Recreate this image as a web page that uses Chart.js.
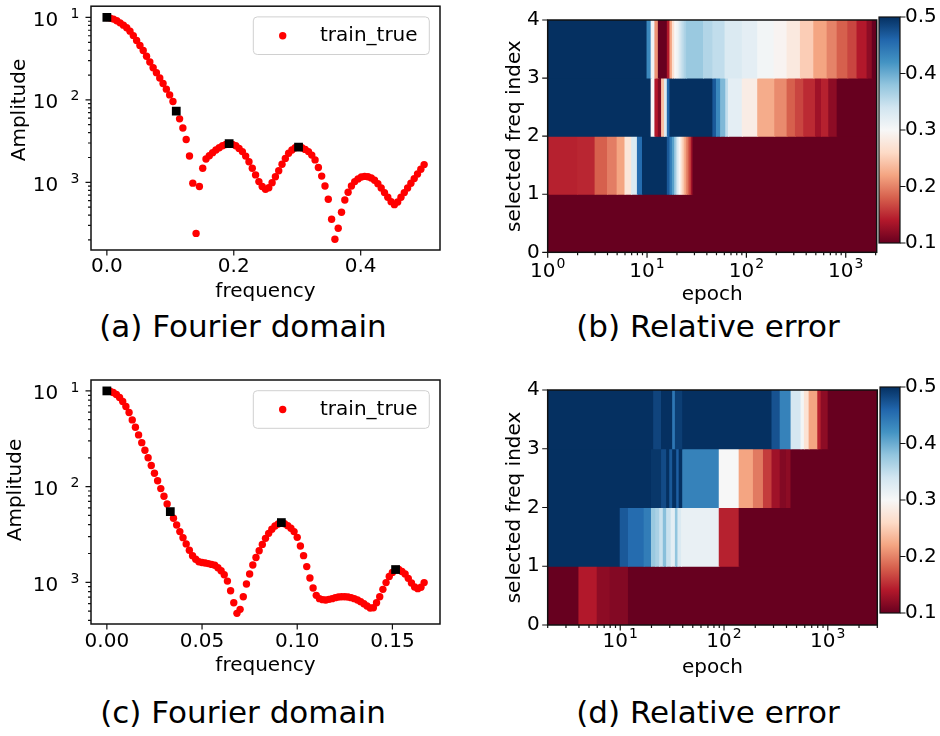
<!DOCTYPE html>
<html>
<head>
<meta charset="utf-8">
<script src="https://cdn.jsdelivr.net/npm/chart.js@4.4.1/dist/chart.umd.min.js"></script>
<style>
  html, body { margin: 0; padding: 0; background: #fff; }
  #page { position: relative; width: 940px; height: 736px; overflow: hidden;
          font-family: "DejaVu Sans", sans-serif; }
  canvas { position: absolute; }
  .caption { position: absolute; width: 400px; text-align: center; font-size: 31px;
             line-height: 31px; color: #000; white-space: nowrap; }
</style>
</head>
<body>
<div id="page">
  <canvas id="chartA" width="460" height="304" style="left:0px;top:0px"></canvas>
  <canvas id="chartB" width="410" height="307" style="left:470px;top:0px"></canvas>
  <canvas id="barB" width="70" height="260" style="left:870px;top:0px"></canvas>
  <canvas id="chartC" width="460" height="308" style="left:0px;top:370px"></canvas>
  <canvas id="chartD" width="410" height="310" style="left:470px;top:370px"></canvas>
  <canvas id="barD" width="70" height="260" style="left:870px;top:370px"></canvas>
  <div class="caption" style="left:43px;top:311px">(a) Fourier domain</div>
  <div class="caption" style="left:508px;top:311px">(b) Relative error</div>
  <div class="caption" style="left:43px;top:697px">(c) Fourier domain</div>
  <div class="caption" style="left:508px;top:697px">(d) Relative error</div>
</div>
<script>
"use strict";

const FAMILY = "DejaVu Sans";
const TEXT_COLOR = "#000";
const AXIS_COLOR = "#111";

// ----- panel (a): spectrum, 97 frequency bins ------------------------------ //
const A_FREQ_STEP = 0.5 / 96;
const A_AMP = [
  0.1, 0.0982, 0.0955, 0.0912, 0.0861, 0.0807, 0.0750, 0.0682, 0.0603, 0.0525,
  0.0457, 0.0398, 0.0339, 0.0288, 0.0245, 0.0214, 0.0184, 0.0158, 0.0135, 0.0115,
  0.00955, 0.00733, 0.00589, 0.00457, 0.00331, 0.00209, 0.000977, 0.000240, 0.000891, 0.00148,
  0.00192, 0.00210, 0.00229, 0.00247, 0.00263, 0.00278, 0.00288, 0.00294, 0.00289, 0.00278,
  0.00258, 0.00236, 0.00208, 0.00178, 0.00148, 0.00123, 0.00102, 0.000891, 0.000822, 0.000861,
  0.000991, 0.00117, 0.00138, 0.00166, 0.00195, 0.00225, 0.00247, 0.00263, 0.00268, 0.00263,
  0.00251, 0.00236, 0.00214, 0.00187, 0.00151, 0.00119, 0.000904, 0.000622, 0.000356, 0.000204,
  0.000277, 0.000433, 0.000611, 0.000757, 0.000904, 0.00102, 0.00110, 0.00116, 0.00118, 0.00117,
  0.00113, 0.00106, 0.000964, 0.000853, 0.000750, 0.000658, 0.000583, 0.000536, 0.000578, 0.000658,
  0.000750, 0.000853, 0.000973, 0.00111, 0.00126, 0.00144, 0.00164
];
const A_SEL = [0, 21, 37, 58];
const A_X_TICKS = [0, 0.2, 0.4];
const A_X_LABELS = ["0.0", "0.2", "0.4"];

// ----- panel (c): spectrum, 101 frequency bins ----------------------------- //
const C_FREQ_STEP = 1 / 600;
const C_AMP = [
  0.1000, 0.0992, 0.0962, 0.0916, 0.0852, 0.0774, 0.0686, 0.0594, 0.0498, 0.0417,
  0.0347, 0.0288, 0.0240, 0.0200, 0.0166, 0.0138, 0.0115, 0.00953, 0.00793, 0.00659,
  0.00548, 0.00467, 0.00397, 0.00339, 0.00293, 0.00252, 0.00216, 0.00190, 0.00174, 0.00164,
  0.00161, 0.00159, 0.00157, 0.00154, 0.00151, 0.00142, 0.00132, 0.00120, 0.00103, 0.000818,
  0.000612, 0.000474, 0.000522, 0.000708, 0.000961, 0.00122, 0.00152, 0.00182, 0.00214, 0.00249,
  0.00288, 0.00325, 0.00358, 0.00388, 0.00407, 0.00421, 0.00410, 0.00391, 0.00367, 0.00339,
  0.00295, 0.00240, 0.00190, 0.00146, 0.00111, 0.000873, 0.000731, 0.000675, 0.000659, 0.000653,
  0.000664, 0.000675, 0.000692, 0.000703, 0.000708, 0.000708, 0.000703, 0.000692, 0.000675, 0.000653,
  0.000628, 0.000598, 0.000566, 0.000540, 0.000543, 0.000612, 0.000708, 0.000845, 0.000993, 0.00115,
  0.00127, 0.00136, 0.00136, 0.00130, 0.00122, 0.00110, 0.000984, 0.000893, 0.000859, 0.000887,
  0.000993
];
const C_SEL = [0, 20, 55, 91];
const C_X_TICKS = [0, 0.05, 0.1, 0.15];
const C_X_LABELS = ["0.00", "0.05", "0.10", "0.15"];

// log ticks of the amplitude axes; the minus sign is missing in the original
const AMP_Y_TICKS = [0.1, 0.01, 0.001];
const AMP_Y_EXPS = ["1", "2", "3"];

// ----- panel (b): relative error per freq index, cells start at epoch ------ //
const B_ROW0_START = [1];
const B_ROW0_ERR   = [0.1];
const B_ROW1_START = [1, 2, 3, 4, 5, 6, 7, 8, 9, 16, 17, 18, 19, 20, 21, 22, 23, 24, 25, 26, 27, 28, 29];
const B_ROW1_ERR   = [0.145, 0.148, 0.18, 0.197, 0.22, 0.275, 0.33, 0.455, 0.5, 0.47, 0.44, 0.41,
                      0.37, 0.33, 0.3, 0.27, 0.245, 0.22, 0.2, 0.18, 0.16, 0.13, 0.1];
const B_ROW2_START = [1, 11, 12, 13, 14, 15, 16, 17, 46, 50, 55, 62, 66, 91, 130, 193, 257, 312,
                      378, 496, 570, 675, 820];
const B_ROW2_ERR   = [0.5, 0.3, 0.14, 0.115, 0.24, 0.33, 0.46, 0.5, 0.47, 0.43, 0.39, 0.35, 0.32,
                      0.285, 0.225, 0.205, 0.18, 0.165, 0.15, 0.13, 0.145, 0.12, 0.1];
const B_ROW3_START = [1, 10, 11, 12, 13, 16, 17, 18, 19, 20, 21, 22, 23, 24, 25, 37, 46, 61, 91,
                      130, 190, 257, 350, 477, 650, 820, 1050, 1300, 1640, 1850];
const B_ROW3_ERR   = [0.5, 0.43, 0.31, 0.21, 0.1, 0.14, 0.22, 0.27, 0.3, 0.31, 0.33, 0.345, 0.355,
                      0.365, 0.375, 0.36, 0.35, 0.33, 0.32, 0.305, 0.295, 0.28, 0.25, 0.22, 0.2,
                      0.18, 0.165, 0.14, 0.12, 0.1];
const B_X_MIN = 1;
const B_X_MAX = 2050;
const B_X_TICKS = [1, 10, 100, 1000];
const B_X_EXPS = ["0", "1", "2", "3"];

// ----- panel (d) ------------------------------------------------------------ //
const D_ROW0_START = [2, 4, 6, 8, 12];
const D_ROW0_ERR   = [0.1, 0.14, 0.12, 0.115, 0.1];
const D_ROW1_START = [2, 10, 12, 17, 20, 22, 24, 26, 28, 31, 34, 36, 39, 90, 140];
const D_ROW1_ERR   = [0.5, 0.47, 0.455, 0.44, 0.375, 0.365, 0.345, 0.385, 0.345, 0.32, 0.38,
                      0.33, 0.315, 0.145, 0.1];
const D_ROW2_START = [2, 20, 25, 28, 30, 32, 35, 37, 40, 90, 140, 192, 240, 290, 348, 400, 442];
const D_ROW2_ERR   = [0.5, 0.495, 0.48, 0.5, 0.47, 0.5, 0.465, 0.5, 0.435, 0.3, 0.22, 0.195,
                      0.16, 0.13, 0.115, 0.12, 0.1];
const D_ROW3_START = [2, 21, 25, 32, 34, 40, 290, 348, 443, 553, 595, 661, 801, 863, 1009];
const D_ROW3_ERR   = [0.5, 0.485, 0.5, 0.445, 0.49, 0.5, 0.475, 0.435, 0.335, 0.305, 0.27,
                      0.22, 0.145, 0.12, 0.1];
const D_X_MIN = 2;
const D_X_MAX = 3000;
const D_X_TICKS = [10, 100, 1000];
const D_X_EXPS = ["1", "2", "3"];

const ROW_TICKS = [0, 1, 2, 3, 4];
const CB_TICKS = [0.1, 0.2, 0.3, 0.4, 0.5];
const CB_LABELS = ["0.1", "0.2", "0.3", "0.4", "0.5"];
const ERR_MIN = 0.1;
const ERR_MAX = 0.5;

const LOG_MINOR_MULTS = [2, 3, 4, 5, 6, 7, 8, 9];
const MAJOR_TICK = 5.5;
const MINOR_TICK = 3;

// matplotlib RdBu, low -> high
const RDBU = ["#67001f", "#b2182b", "#d6604d", "#f4a582", "#fddbc7", "#f7f7f7",
              "#d1e5f0", "#92c5de", "#4393c3", "#2166ac", "#053061"];

// ----- helpers ------------------------------------------------------------- //
function hexToRgb(h) {
  const n = parseInt(h.slice(1), 16);
  return [n >> 16, (n >> 8) & 255, n & 255];
}
const RDBU_RGB = RDBU.map(hexToRgb);

function rdbu(v) {
  const last = RDBU_RGB.length - 1;
  const t = Math.min(1, Math.max(0, (v - ERR_MIN) / (ERR_MAX - ERR_MIN))) * last;
  const i = Math.min(Math.floor(t), last - 1);
  const f = t - i;
  const a = RDBU_RGB[i], b = RDBU_RGB[i + 1];
  const c = a.map((x, k) => Math.round(x + (b[k] - x) * f));
  return `rgb(${c[0]},${c[1]},${c[2]})`;
}

function font(size) {
  return { family: FAMILY, size: size };
}

function logTicks(min, max, majors) {
  const ticks = majors.map(v => ({ value: v, major: true }));
  const lo = Math.floor(Math.log10(min)), hi = Math.ceil(Math.log10(max));
  for (let e = lo; e <= hi; e++) {
    for (const m of LOG_MINOR_MULTS) {
      const v = m * Math.pow(10, e);
      if (v >= min && v <= max) ticks.push({ value: v, major: false });
    }
  }
  return ticks;
}

function fixedTicks(values) {
  return values.map(v => ({ value: v, major: true }));
}

// frame + outward tick marks, plus whatever a panel needs on top
function makeDecor(cfg) {
  return {
    id: "decor",
    afterDraw(chart) {
      const ctx = chart.ctx, area = chart.chartArea;
      ctx.save();
      ctx.strokeStyle = AXIS_COLOR;
      ctx.lineWidth = 1.2;
      ctx.beginPath();
      for (const [id, side] of cfg.tickSides) {
        const scale = chart.scales[id];
        for (const t of scale.ticks) {
          const p = scale.getPixelForValue(t.value);
          const len = t.major ? MAJOR_TICK : MINOR_TICK;
          if (side === "bottom") { ctx.moveTo(p, area.bottom); ctx.lineTo(p, area.bottom + len); }
          else if (side === "left") { ctx.moveTo(area.left, p); ctx.lineTo(area.left - len, p); }
          else { ctx.moveTo(area.right, p); ctx.lineTo(area.right + len, p); }
        }
      }
      ctx.stroke();
      ctx.lineWidth = cfg.frameWidth || 1.5;
      ctx.strokeRect(area.left, area.top, area.right - area.left, area.bottom - area.top);
      if (cfg.extra) cfg.extra(chart, ctx, area);
      ctx.restore();
    }
  };
}

function drawPowY(chart, ctx, area) {
  const y = chart.scales.y;
  ctx.fillStyle = TEXT_COLOR;
  ctx.textAlign = "right";
  ctx.textBaseline = "alphabetic";
  AMP_Y_TICKS.forEach((v, i) => {
    const p = y.getPixelForValue(v);
    ctx.font = `20px "${FAMILY}"`;
    ctx.fillText("10", area.left - 32.7, p + 8.3);
    ctx.font = `14px "${FAMILY}"`;
    ctx.fillText(AMP_Y_EXPS[i], area.left - 11.5, p + 0.6);
  });
}

function drawPowX(chart, ctx, area, ticks, exps, dy) {
  const x = chart.scales.x;
  ctx.fillStyle = TEXT_COLOR;
  ctx.textAlign = "left";
  ctx.textBaseline = "alphabetic";
  ticks.forEach((v, i) => {
    const p = x.getPixelForValue(v);
    ctx.font = `20px "${FAMILY}"`;
    const w1 = ctx.measureText("10").width;
    ctx.font = `14px "${FAMILY}"`;
    const w2 = ctx.measureText(exps[i]).width;
    const x0 = p - (w1 + 1 + w2) / 2;
    ctx.font = `20px "${FAMILY}"`;
    ctx.fillText("10", x0, area.bottom + dy + 7.3);
    ctx.font = `14px "${FAMILY}"`;
    ctx.fillText(exps[i], x0 + w1 + 1, area.bottom + dy - 1.6);
  });
}

function drawLegend(chart, ctx, area) {
  const ds = chart.data.datasets[1];
  const bx = area.right - 186.7, by = area.top + 10.7, bw = 176, bh = 37.6, r = 4;
  ctx.beginPath();
  ctx.moveTo(bx + r, by);
  ctx.arcTo(bx + bw, by, bx + bw, by + bh, r);
  ctx.arcTo(bx + bw, by + bh, bx, by + bh, r);
  ctx.arcTo(bx, by + bh, bx, by, r);
  ctx.arcTo(bx, by, bx + bw, by, r);
  ctx.closePath();
  ctx.fillStyle = "rgba(255,255,255,0.8)";
  ctx.fill();
  ctx.strokeStyle = "#d0d0d0";
  ctx.lineWidth = 1;
  ctx.stroke();
  ctx.beginPath();
  ctx.arc(bx + 29.4, by + bh / 2, 3.7, 0, Math.PI * 2);
  ctx.fillStyle = ds.backgroundColor;
  ctx.fill();
  ctx.fillStyle = TEXT_COLOR;
  ctx.font = `20px "${FAMILY}"`;
  ctx.textAlign = "left";
  ctx.textBaseline = "middle";
  ctx.fillText(ds.label, bx + 66.7, by + bh / 2);
}

function drawYTitle(ctx, text, x, y) {
  ctx.save();
  ctx.translate(x, y);
  ctx.rotate(-Math.PI / 2);
  ctx.fillStyle = TEXT_COLOR;
  ctx.font = `20px "${FAMILY}"`;
  ctx.textAlign = "center";
  ctx.textBaseline = "middle";
  ctx.fillText(text, 0, 0);
  ctx.restore();
}

// ----- spectrum panels ----------------------------------------------------- //
function spectrumChart(id, amps, step, sel, lim, xTicks, xLabels, lay) {
  const points = amps.map((a, k) => ({ x: k * step, y: a }));
  const squares = sel.map(k => points[k]);
  return new Chart(document.getElementById(id), {
    type: "scatter",
    data: {
      datasets: [
        { label: "selected", data: squares, pointStyle: "rect", pointRadius: 6.2,
          backgroundColor: "#000", borderWidth: 0 },
        { label: "train_true", data: points, pointStyle: "circle", pointRadius: 3.7,
          backgroundColor: "#ff0000", borderWidth: 0 },
      ],
    },
    options: {
      responsive: false, animation: false, events: [],
      layout: { padding: { top: lay.top, right: 20, left: 0, bottom: 0 } },
      plugins: { legend: { display: false }, tooltip: { enabled: false } },
      scales: {
        x: {
          type: "linear", min: lim.xMin, max: lim.xMax, bounds: "data",
          afterBuildTicks: s => { s.ticks = fixedTicks(xTicks); },
          ticks: { font: font(20), color: TEXT_COLOR, padding: lay.tickPad, autoSkip: false,
                   maxRotation: 0, callback: (v, i) => xLabels[i] },
          grid: { display: false, drawTicks: false }, border: { display: false },
          title: { display: true, text: "frequency", font: font(20), color: TEXT_COLOR, padding: 0 },
          afterFit: s => { s.height = lay.xHeight; },
        },
        y: {
          type: "logarithmic", min: lim.yMin, max: lim.yMax, bounds: "data",
          afterBuildTicks: s => { s.ticks = logTicks(lim.yMin, lim.yMax, AMP_Y_TICKS); },
          ticks: { display: false },
          grid: { display: false, drawTicks: false }, border: { display: false },
          afterFit: s => { s.width = 91; },
        },
      },
    },
    plugins: [makeDecor({
      tickSides: [["x", "bottom"], ["y", "left"]],
      extra: (chart, ctx, area) => {
        drawPowY(chart, ctx, area);
        drawLegend(chart, ctx, area);
        drawYTitle(ctx, "Amplitude", lay.titleX, lay.titleY);
      },
    })],
  });
}

// ----- heatmap panels (floating bars, one per cell) ------------------------ //
function rowCells(starts, errs, row, xMax) {
  return starts.map((s, i) => ({
    x: [s, i + 1 < starts.length ? starts[i + 1] : xMax],
    y: row + 0.5,
    err: errs[i],
  }));
}

function heatmapChart(id, rows, xMin, xMax, xTicks, xExps, lay) {
  const cells = rows.flatMap(([starts, errs], r) => rowCells(starts, errs, r, xMax));
  return new Chart(document.getElementById(id), {
    type: "bar",
    data: {
      datasets: [{
        data: cells,
        backgroundColor: c => (c.raw ? rdbu(c.raw.err) : "#000"),
        borderWidth: 0, barPercentage: 1, categoryPercentage: 1, inflateAmount: 0.5,
      }],
    },
    options: {
      indexAxis: "y",
      responsive: false, animation: false, events: [],
      layout: { padding: { top: lay.top, right: lay.right, left: 0, bottom: 0 } },
      plugins: { legend: { display: false }, tooltip: { enabled: false } },
      scales: {
        x: {
          type: "logarithmic", min: xMin, max: xMax, bounds: "data",
          afterBuildTicks: s => { s.ticks = logTicks(xMin, xMax, xTicks); },
          ticks: { display: false },
          grid: { display: false, drawTicks: false }, border: { display: false },
          title: { display: true, text: "epoch", font: font(20), color: TEXT_COLOR, padding: 0 },
          afterFit: s => { s.height = lay.xHeight; },
        },
        y: {
          type: "linear", min: 0, max: 4, offset: false, bounds: "data",
          afterBuildTicks: s => { s.ticks = fixedTicks(ROW_TICKS); },
          ticks: { font: font(20), color: TEXT_COLOR, padding: 8, autoSkip: false,
                   callback: v => String(v) },
          grid: { display: false, drawTicks: false, offset: false }, border: { display: false },
          title: { display: true, text: "selected freq index", font: font(20), color: TEXT_COLOR,
                   padding: { top: 32.5, bottom: 0 } },
          afterFit: s => { s.width = 77.7; },
        },
      },
    },
    plugins: [makeDecor({
      tickSides: [["x", "bottom"], ["y", "left"]],
      extra: (chart, ctx, area) => drawPowX(chart, ctx, area, xTicks, xExps, lay.labelDy),
    })],
  });
}

function colorbarChart(id, lay) {
  return new Chart(document.getElementById(id), {
    type: "bar",
    data: {
      labels: ["err"],
      datasets: [{
        data: [[ERR_MIN, ERR_MAX]],
        backgroundColor: c => {
          const area = c.chart.chartArea;
          if (!area) return RDBU[5];
          const g = c.chart.ctx.createLinearGradient(0, area.bottom, 0, area.top);
          RDBU.forEach((col, i) => g.addColorStop(i / (RDBU.length - 1), col));
          return g;
        },
        borderWidth: 0, barPercentage: 1, categoryPercentage: 1,
      }],
    },
    options: {
      responsive: false, animation: false, events: [],
      layout: { padding: { top: lay.top, bottom: lay.bottom, left: lay.left, right: 0 } },
      plugins: { legend: { display: false }, tooltip: { enabled: false } },
      scales: {
        x: { display: false },
        y: {
          position: "right", min: ERR_MIN, max: ERR_MAX, bounds: "data",
          afterBuildTicks: s => { s.ticks = fixedTicks(CB_TICKS); },
          ticks: { font: font(20), color: TEXT_COLOR, padding: 5, autoSkip: false,
                   callback: (v, i) => CB_LABELS[i] },
          grid: { display: false, drawTicks: false }, border: { display: false },
          afterFit: s => { s.width = 40; },
        },
      },
    },
    plugins: [makeDecor({ tickSides: [["y", "right"]], frameWidth: 1.2 })],
  });
}

// ----- boot ---------------------------------------------------------------- //
Chart.defaults.font.family = FAMILY;

spectrumChart("chartA", A_AMP, A_FREQ_STEP, A_SEL,
  { xMin: -0.025, xMax: 0.525, yMin: 1.51e-4, yMax: 0.137 }, A_X_TICKS, A_X_LABELS,
  { top: 6, xHeight: 54, tickPad: 5, titleX: 20, titleY: 110 });

spectrumChart("chartC", C_AMP, C_FREQ_STEP, C_SEL,
  { xMin: -0.00833, xMax: 0.175, yMin: 3.67e-4, yMax: 0.130 }, C_X_TICKS, C_X_LABELS,
  { top: 10, xHeight: 54, tickPad: 5.7, titleX: 16, titleY: 120 });

heatmapChart("chartB",
  [[B_ROW0_START, B_ROW0_ERR], [B_ROW1_START, B_ROW1_ERR],
   [B_ROW2_START, B_ROW2_ERR], [B_ROW3_START, B_ROW3_ERR]],
  B_X_MIN, B_X_MAX, B_X_TICKS, B_X_EXPS,
  { top: 9.3, right: 3.3, xHeight: 54.7, labelDy: 17.7 });

heatmapChart("chartD",
  [[D_ROW0_START, D_ROW0_ERR], [D_ROW1_START, D_ROW1_ERR],
   [D_ROW2_START, D_ROW2_ERR], [D_ROW3_START, D_ROW3_ERR]],
  D_X_MIN, D_X_MAX, D_X_TICKS, D_X_EXPS,
  { top: 11, right: 2.7, xHeight: 55, labelDy: 15 });

colorbarChart("barB", { top: 9.3, bottom: 7.7, left: 9 });
colorbarChart("barD", { top: 11, bottom: 5, left: 10 });
</script>
</body>
</html>
